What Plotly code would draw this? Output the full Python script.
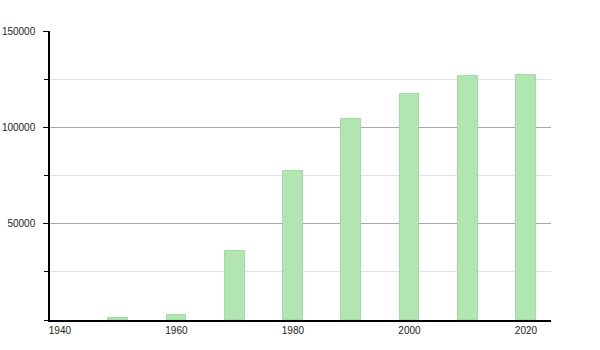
import plotly.graph_objects as go

years = [1950, 1960, 1970, 1980, 1990, 2000, 2010, 2020]
population = [1000, 2600, 35800, 77300, 104300, 117300, 126600, 127100]
x_ticks = [1940, 1960, 1980, 2000, 2020]
y_ticks = [50000, 100000, 150000]

fig = go.Figure()
fig.add_trace(go.Bar(
    x=years, y=population, width=3.4,
    marker=dict(color="#b1e5b1", line=dict(color="#a3dba3", width=1)),
    hoverinfo="x+y",
))

fig.update_layout(
    width=600, height=350,
    margin=dict(l=50, r=49, t=31, b=30, autoexpand=False),
    paper_bgcolor="white", plot_bgcolor="white",
    showlegend=False,
    font=dict(family="Liberation Sans, Arial, sans-serif", size=10, color="#222"),
    bargap=0,
)
fig.update_xaxes(
    range=[1938.3, 2024.3], tickvals=x_ticks, ticktext=[str(v) for v in x_ticks],
    showgrid=False, zeroline=False, showline=True, linecolor="black", linewidth=1.5,
    ticks="", ticklen=0, automargin=False, ticklabelstandoff=0,
)
fig.update_yaxes(
    range=[0, 150000], tickvals=y_ticks, ticktext=[str(v) for v in y_ticks],
    showgrid=True, gridcolor="#a8a8a8", gridwidth=1,
    zeroline=False, showline=True, linecolor="black", linewidth=1.5,
    ticks="outside", ticklen=5, tickcolor="black", automargin=False,
    ticklabelstandoff=6,
    minor=dict(dtick=25000, tick0=0, ticks="outside", ticklen=4, tickcolor="black",
               showgrid=True, gridcolor="#e2e2e2", gridwidth=1),
)

fig.write_html("out.html")
